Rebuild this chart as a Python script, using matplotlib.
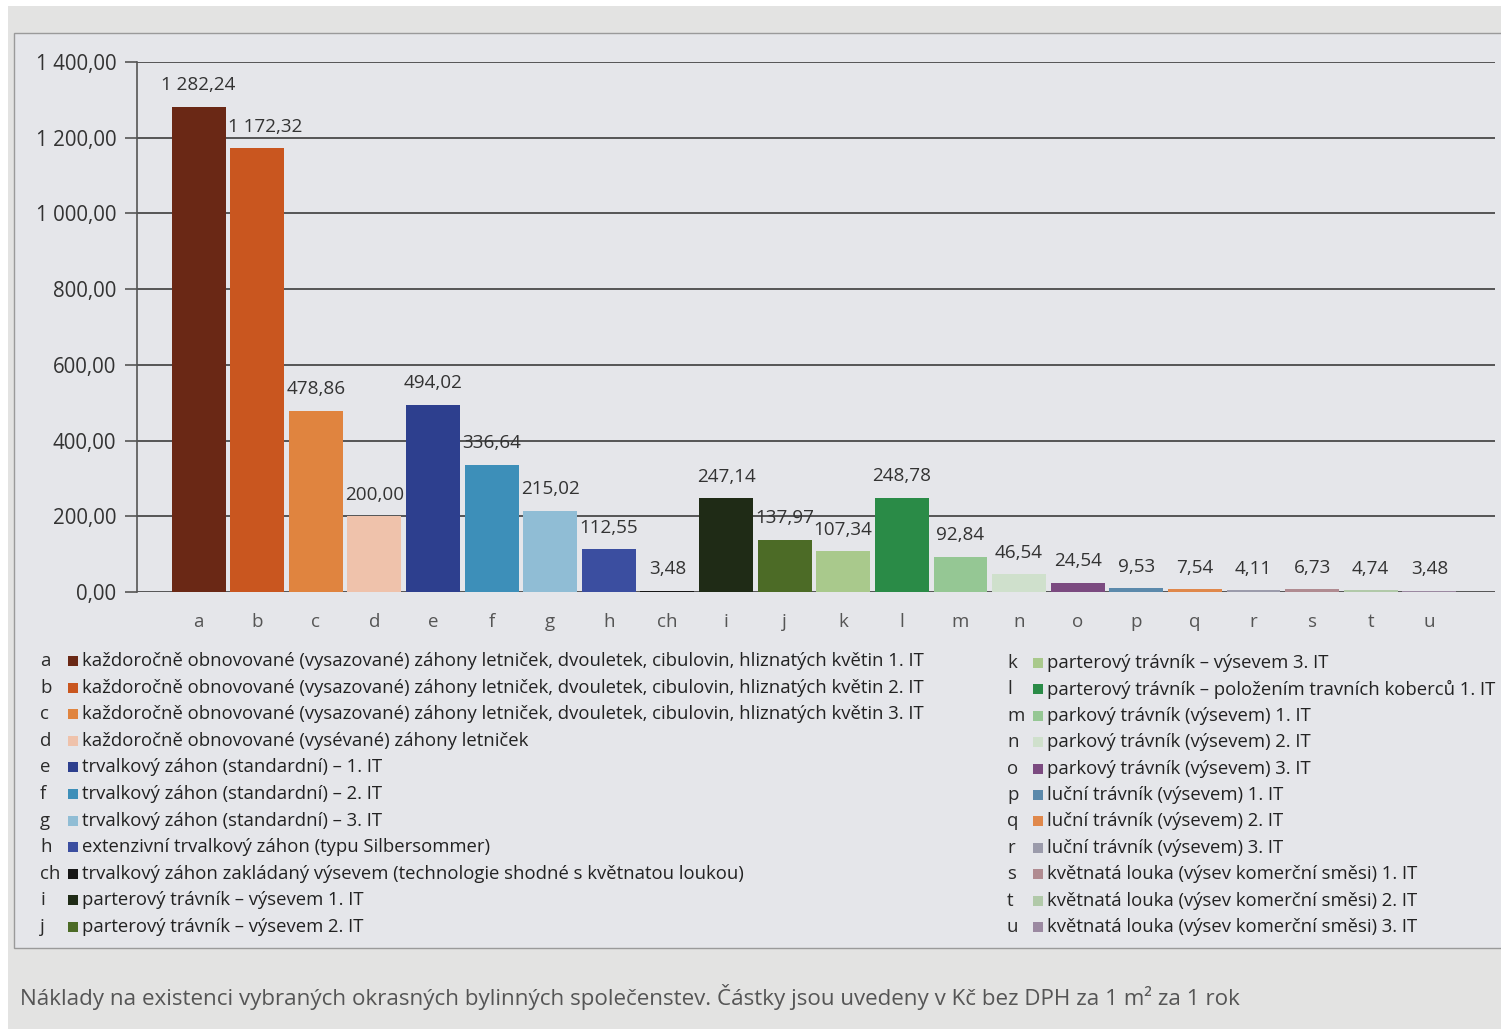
import matplotlib.pyplot as plt
from matplotlib.patches import Rectangle
from matplotlib.ticker import FuncFormatter

# kategorie a naklady (Kc / m2 / rok)
kody = ["a", "b", "c", "d", "e", "f", "g", "h", "ch", "i", "j",
        "k", "l", "m", "n", "o", "p", "q", "r", "s", "t", "u"]
naklady = [1282.24, 1172.32, 478.86, 200.00, 494.02, 336.64, 215.02, 112.55,
           3.48, 247.14, 137.97, 107.34, 248.78, 92.84, 46.54, 24.54, 9.53,
           7.54, 4.11, 6.73, 4.74, 3.48]
barvy = ["#6a2815", "#c9561f", "#e0843f", "#efc2ab", "#2d3f8e", "#3d8fb9",
         "#90bdd5", "#3b4ea0", "#161616", "#1f2b16", "#4c6b26", "#a9c98c",
         "#2a8b47", "#95c794", "#cfe0cc", "#7b4a80", "#5b89ab", "#e0884b",
         "#9b9bab", "#b08b91", "#b1c9a9", "#9b89a1"]
popisy = [
    "každoročně obnovované (vysazované) záhony letniček, dvouletek, cibulovin, hliznatých květin 1. IT",
    "každoročně obnovované (vysazované) záhony letniček, dvouletek, cibulovin, hliznatých květin 2. IT",
    "každoročně obnovované (vysazované) záhony letniček, dvouletek, cibulovin, hliznatých květin 3. IT",
    "každoročně obnovované (vysévané) záhony letniček",
    "trvalkový záhon (standardní) – 1. IT",
    "trvalkový záhon (standardní) – 2. IT",
    "trvalkový záhon (standardní) – 3. IT",
    "extenzivní trvalkový záhon (typu Silbersommer)",
    "trvalkový záhon zakládaný výsevem (technologie shodné s květnatou loukou)",
    "parterový trávník – výsevem 1. IT",
    "parterový trávník – výsevem 2. IT",
    "parterový trávník – výsevem 3. IT",
    "parterový trávník – položením travních koberců 1. IT",
    "parkový trávník (výsevem) 1. IT",
    "parkový trávník (výsevem) 2. IT",
    "parkový trávník (výsevem) 3. IT",
    "luční trávník (výsevem) 1. IT",
    "luční trávník (výsevem) 2. IT",
    "luční trávník (výsevem) 3. IT",
    "květnatá louka (výsev komerční směsi) 1. IT",
    "květnatá louka (výsev komerční směsi) 2. IT",
    "květnatá louka (výsev komerční směsi) 3. IT",
]
popisek = ("Náklady na existenci vybraných okrasných bylinných společenstev. "
           "Částky jsou uvedeny v Kč bez DPH za 1 m² za 1 rok")

plt.rcParams["font.family"] = ["Open Sans", "DejaVu Sans"]
W, H = 1501, 1029
pozadi = "#e5e6ea"


def cz(v, pos=None):
    return f"{v:,.2f}".replace(",", " ").replace(".", ",")


fig = plt.figure(figsize=(W / 100, H / 100), dpi=100)
fig.patch.set_facecolor("white")

# papir a ramecek grafu
fig.add_artist(Rectangle((8 / W, 0), 1, 1 - 6 / H, transform=fig.transFigure,
                         facecolor="#e3e3e2", edgecolor="none", zorder=-3))
fig.add_artist(Rectangle((14 / W, 1 - 948 / H), 1, (948 - 33) / H,
                         transform=fig.transFigure, facecolor=pozadi,
                         edgecolor="#9a9a9a", linewidth=1.0, zorder=-2))

ax = fig.add_axes([137 / W, 1 - 592 / H, (1495 - 137) / W, (592 - 62) / H])
ax.patch.set_alpha(0)

x = list(range(len(kody)))
ax.bar(x, naklady, width=0.92, color=barvy, zorder=3)
for xi, v in zip(x, naklady):
    dx = 6 if v > 1000 and xi > 0 else 0
    ax.annotate(cz(v), (xi, v), xytext=(dx, 9), textcoords="offset points",
                ha="center", va="bottom", fontsize=13.6, color="#333333")

ax.set_ylim(0, 1400)
ax.set_xlim(-1.05, len(kody) - 1 + 1.12)
ax.set_yticks(range(0, 1401, 200))
ax.yaxis.set_major_formatter(FuncFormatter(cz))
ax.set_xticks(x)
ax.set_xticklabels(kody)
ax.grid(axis="y", color="#555555", linewidth=1.4, zorder=1)
for s in ["top", "right", "bottom"]:
    ax.spines[s].set_visible(False)
ax.spines["left"].set_color("#555555")
ax.spines["left"].set_linewidth(1.2)
ax.tick_params(axis="y", length=9, width=1.2, color="#555555", pad=6,
               labelsize=14.8, labelcolor="#333333")
ax.tick_params(axis="x", length=0, pad=15, labelsize=13.5, labelcolor="#555555")


# legenda ve dvou sloupcich
def legenda(i0, i1, x_kod, x_ctv, y0, krok):
    for r, i in enumerate(range(i0, i1)):
        y = 1 - (y0 + r * krok) / H
        fig.text(x_kod / W, y, kody[i], ha="left", va="center",
                 fontsize=13.4, color="#2a2a2a")
        fig.add_artist(Rectangle((x_ctv / W, y - 5 / H), 10 / W, 10 / H,
                                 transform=fig.transFigure,
                                 facecolor=barvy[i], edgecolor="none"))
        fig.text((x_ctv + 14) / W, y, popisy[i], ha="left", va="center",
                 fontsize=13.35, color="#222222")


legenda(0, 11, 40, 68, 661, 26.6)
legenda(11, 22, 1007, 1033, 663, 26.4)

fig.text(20 / W, 1 - 997 / H, popisek, ha="left", va="center",
         fontsize=16.1, color="#555555")

fig.savefig("out.png", dpi=100, facecolor=fig.get_facecolor())
